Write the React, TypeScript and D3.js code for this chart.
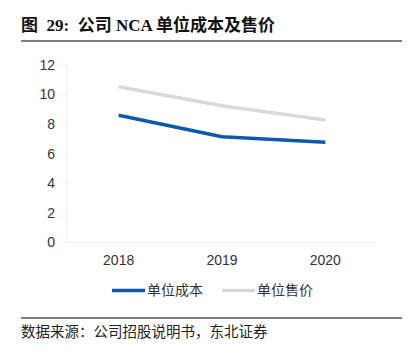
import React from "react";
import * as d3 from "d3";

const years = ["2018", "2019", "2020"];
const unitCost = [8.6, 7.15, 6.77];
const unitPrice = [10.53, 9.24, 8.28];
const yTicks = [0, 2, 4, 6, 8, 10, 12];
const seriesNames = ["单位成本", "单位售价"];
const title = "图  29:  公司 NCA 单位成本及售价";
const source = "数据来源：公司招股说明书，东北证券";

const W = 417;
const H = 360;
const left = 67;
const right = 377;
const top = 65;
const bottom = 242.5;

export default function App() {
  const x = d3.scaleBand<string>().domain(years).range([left, right]);
  const y = d3.scaleLinear().domain([0, 12]).range([bottom, top]);
  const line = d3
    .line<number>()
    .x((_, i) => (x(years[i]) as number) + x.bandwidth() / 2)
    .y((d) => y(d));
  const series = [
    { name: seriesNames[1], values: unitPrice, color: "#D9D9D9" },
    { name: seriesNames[0], values: unitCost, color: "#0B5AAB" },
  ];
  const sans = "'Liberation Sans', Arial, 'Noto Sans CJK SC', sans-serif";
  const serifBold = "'Liberation Serif', 'Noto Sans CJK SC', serif";
  return (
    <svg width={W} height={H} style={{ position: "absolute", left: 0, top: 0, background: "#fff" }}>
      <text
        x={21}
        y={31}
        fontFamily={serifBold}
        fontWeight="bold"
        fontSize={17}
        fill="#111"
        style={{ whiteSpace: "pre" }}
      >
        {title}
      </text>
      <line x1={21} x2={402} y1={41} y2={41} stroke="#555" strokeWidth={1.5} />
      {/* y axis */}
      <line x1={left} x2={left} y1={top} y2={bottom} stroke="#EEEEEE" strokeWidth={1} />
      {yTicks.map((t) => (
        <g key={t}>
          <line x1={left - 4} x2={left} y1={y(t)} y2={y(t)} stroke="#EEEEEE" />
          <text x={55} y={y(t)} dy="0.35em" textAnchor="end" fontFamily={sans} fontSize={14} fill="#333">
            {t}
          </text>
        </g>
      ))}
      {/* x axis */}
      <line x1={left} x2={right} y1={bottom} y2={bottom} stroke="#EEEEEE" strokeWidth={1} />
      {years.map((yr) => (
        <text
          key={yr}
          x={(x(yr) as number) + x.bandwidth() / 2}
          y={260}
          dy="0.35em"
          textAnchor="middle"
          fontFamily={sans}
          fontSize={14}
          fill="#333"
        >
          {yr}
        </text>
      ))}
      {series.map((s) => (
        <path
          key={s.name}
          d={line(s.values) || ""}
          fill="none"
          stroke={s.color}
          strokeWidth={3.5}
          strokeLinejoin="round"
        />
      ))}
      {/* legend */}
      {[
        { name: seriesNames[0], color: "#0B5AAB", x0: 112 },
        { name: seriesNames[1], color: "#D9D9D9", x0: 222 },
      ].map((l) => (
        <g key={l.name}>
          <line x1={l.x0} x2={l.x0 + 33} y1={290.5} y2={290.5} stroke={l.color} strokeWidth={3.5} />
          <text x={l.x0 + 35} y={290.5} dy="0.35em" fontFamily={sans} fontSize={14} fill="#333">
            {l.name}
          </text>
        </g>
      ))}
      <line x1={21} x2={402} y1={318} y2={318} stroke="#555" strokeWidth={1.5} />
      <text x={21} y={332} dy="0.35em" fontFamily={serifBold} fontSize={14.5} fill="#222">
        {source}
      </text>
    </svg>
  );
}
